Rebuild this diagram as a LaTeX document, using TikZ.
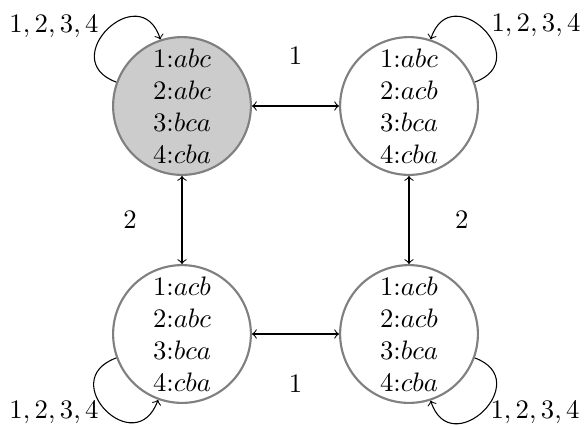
\documentclass[tikz,border=0pt]{standalone}
\begin{document}
\begin{tikzpicture}[x=0.3745pt,y=0.3745pt,
  state/.style={circle,draw=black!50,thick,minimum size=51.6pt,inner sep=0.3pt,align=center},
  conn/.style={<->,black},
  loopedge/.style={->,black,distance=24.5pt},
  looplabel/.style={inner sep=1pt}]
\useasboundingbox (0,0) rectangle (585,425);
\node[state,fill=black!20] (tl) at (182,319) {1:$abc$\\2:$abc$\\3:$bca$\\4:$cba$};
\node[state] (tr) at (409,319) {1:$abc$\\2:$acb$\\3:$bca$\\4:$cba$};
\node[state] (bl) at (182,91) {1:$acb$\\2:$abc$\\3:$bca$\\4:$cba$};
\node[state] (br) at (409,91) {1:$acb$\\2:$acb$\\3:$bca$\\4:$cba$};
\draw[conn] (tl) -- node[midway,yshift=18.7pt] (e1) {$1$} (tr);
\draw[conn] (bl) -- node[midway,yshift=-18.7pt] (e2) {$1$} (br);
\draw[conn] (tl) -- node[midway,xshift=-19.5pt] (e3) {$2$} (bl);
\draw[conn] (tr) -- node[midway,xshift=19.8pt] (e4) {$2$} (br);
\draw[loopedge] (tl.160) to[out=160,in=108] (tl.108);
\draw[loopedge] (tr.20) to[out=20,in=72] (tr.72);
\draw[loopedge] (bl.200) to[out=200,in=250] (bl.250);
\draw[loopedge] (br.340) to[out=340,in=288] (br.288);
\node[looplabel] (ltl) at (54,399) {$1,2,3,4$};
\node[looplabel] (ltr) at (536,400) {$1,2,3,4$};
\node[looplabel] (lbl) at (54,13) {$1,2,3,4$};
\node[looplabel] (lbr) at (535,13) {$1,2,3,4$};
\end{tikzpicture}
\end{document}
